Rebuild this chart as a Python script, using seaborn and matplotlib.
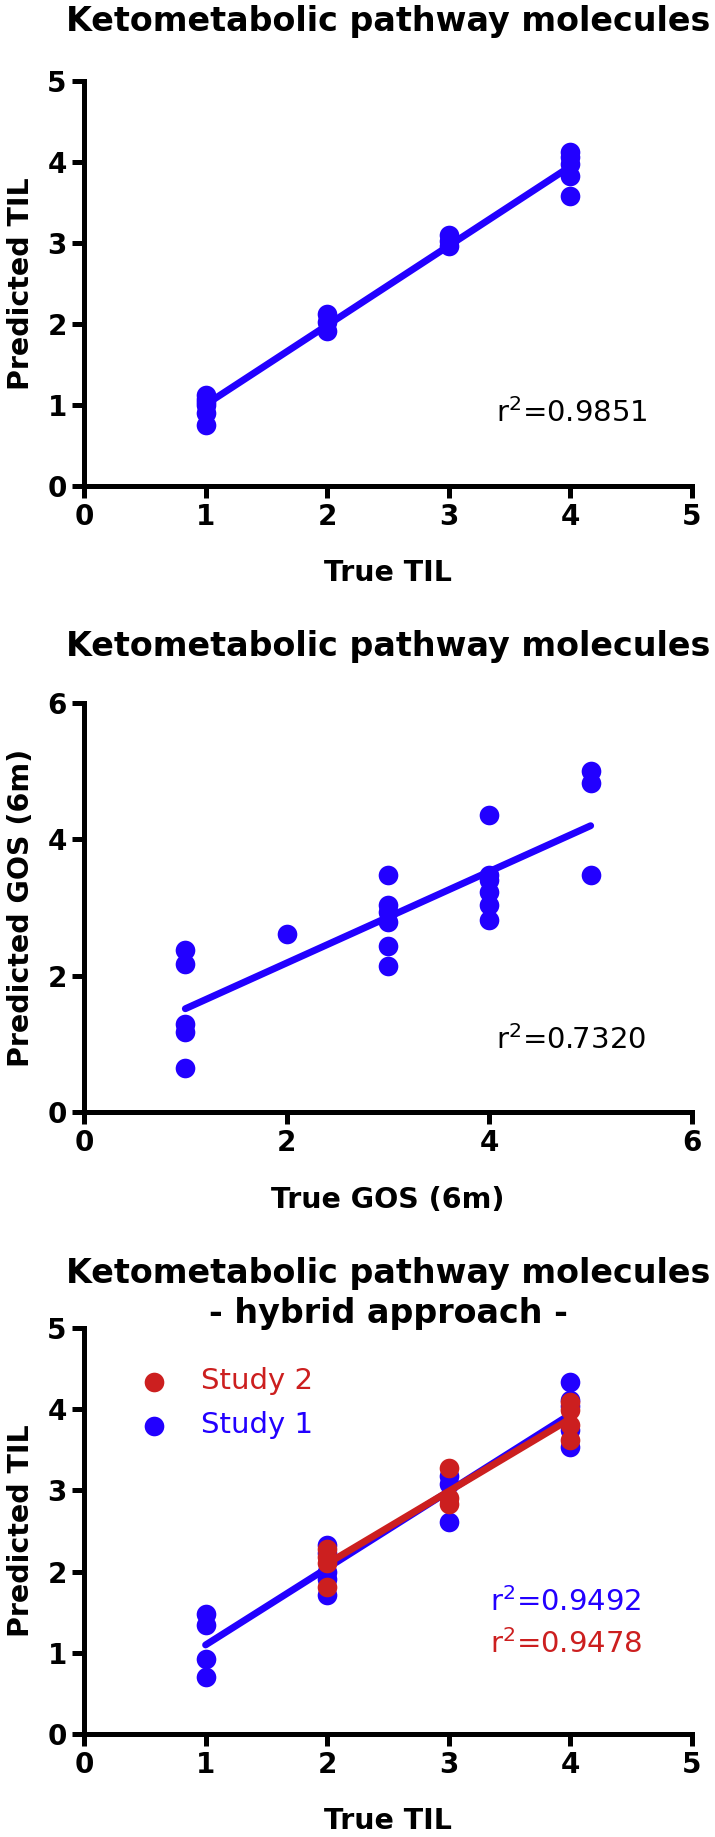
import matplotlib
matplotlib.use('Agg')
import matplotlib.pyplot as plt
import seaborn as sns
import pandas as pd

# colours
BLUE = '#2200ff'
RED = '#cc1f1f'

# panel 1 - TIL
true_til = [1, 1, 1, 1, 1, 1, 2, 2, 2, 3, 3, 3, 4, 4, 4, 4, 4]
pred_til = [1.12, 1.08, 1.04, 1.00, 0.90, 0.76, 2.12, 2.02, 1.92, 3.10, 3.02, 2.96,
            4.12, 4.06, 3.98, 3.83, 3.58]
r2_til = 'r$^2$=0.9851'

# panel 2 - GOS (6m)
true_gos = [1, 1, 1, 1, 1, 2, 3, 3, 3, 3, 3, 3, 4, 4, 4, 4, 4, 4, 5, 5, 5]
pred_gos = [2.37, 2.17, 1.29, 1.17, 0.64, 2.61, 3.48, 3.04, 2.93, 2.78, 2.43, 2.14,
            4.36, 3.48, 3.40, 3.22, 3.04, 2.81, 5.00, 4.83, 3.48]
r2_gos = 'r$^2$=0.7320'

# panel 3 - hybrid approach
study1_x = [1, 1, 1, 1, 2, 2, 2, 2, 2, 3, 3, 3, 4, 4, 4, 4, 4]
study1_y = [1.48, 1.34, 0.92, 0.70, 2.33, 2.23, 2.00, 1.91, 1.71, 3.18, 3.08, 2.61,
            4.34, 4.11, 4.04, 3.74, 3.53]
study2_x = [2, 2, 2, 2, 3, 3, 3, 4, 4, 4, 4]
study2_y = [2.28, 2.18, 2.10, 1.81, 3.27, 2.90, 2.83, 4.09, 3.99, 3.81, 3.62]
r2_study1 = 'r$^2$=0.9492'
r2_study2 = 'r$^2$=0.9478'

title = 'Ketometabolic pathway molecules'

sns.set_theme(style='ticks')
plt.rcParams['font.family'] = ['DejaVu Sans']
plt.rcParams['mathtext.default'] = 'regular'
plt.rcParams['text.color'] = 'black'
plt.rcParams['axes.labelcolor'] = 'black'
plt.rcParams['xtick.color'] = 'black'
plt.rcParams['ytick.color'] = 'black'

df1 = pd.DataFrame({'x': true_til, 'y': pred_til})
df2 = pd.DataFrame({'x': true_gos, 'y': pred_gos})
df_s1 = pd.DataFrame({'x': study1_x, 'y': study1_y})
df_s2 = pd.DataFrame({'x': study2_x, 'y': study2_y})

fig = plt.figure(figsize=(7.15, 18.37), dpi=100)
ax1 = fig.add_axes([0.1175, 0.7354, 0.8503, 0.2205])
ax2 = fig.add_axes([0.1175, 0.3947, 0.8503, 0.2226])
ax3 = fig.add_axes([0.1175, 0.0561, 0.8503, 0.2210])


def style_axes(ax, lim, ticks, xlabel, ylabel):
    ax.set_xlim(0, lim)
    ax.set_ylim(0, lim)
    ax.set_xticks(ticks)
    ax.set_yticks(ticks)
    sns.despine(ax=ax)
    for s in ['left', 'bottom']:
        ax.spines[s].set_linewidth(3.6)
        ax.spines[s].set_color('black')
    ax.tick_params(width=3.6, length=8.5, pad=4, labelsize=20, colors='black')
    for lab in ax.get_xticklabels() + ax.get_yticklabels():
        lab.set_fontweight('bold')
    ax.set_xlabel(xlabel, fontsize=20.5, fontweight='bold', va='center')
    ax.set_ylabel(ylabel, fontsize=20.5, fontweight='bold', va='center')
    ax.xaxis.set_label_coords(0.5, -0.215)
    ax.yaxis.set_label_coords(-0.104, 0.5)


# panel 1
sns.scatterplot(data=df1, x='x', y='y', color=BLUE, s=200, linewidth=0, ax=ax1, zorder=3)
sns.regplot(data=df1, x='x', y='y', ci=None, scatter=False, color=BLUE,
            line_kws={'lw': 5, 'zorder': 4}, ax=ax1)
style_axes(ax1, 5, [0, 1, 2, 3, 4, 5], 'True TIL', 'Predicted TIL')
ax1.text(0.5, 1.146, title, transform=ax1.transAxes, ha='center', va='center',
         fontsize=24, fontweight='bold')
ax1.text(0.678, 0.18, r2_til, transform=ax1.transAxes, ha='left', va='center', fontsize=21)

# panel 2
sns.scatterplot(data=df2, x='x', y='y', color=BLUE, s=200, linewidth=0, ax=ax2, zorder=3)
sns.regplot(data=df2, x='x', y='y', ci=None, scatter=False, color=BLUE,
            line_kws={'lw': 5, 'zorder': 4}, ax=ax2)
style_axes(ax2, 6, [0, 2, 4, 6], 'True GOS (6m)', 'Predicted GOS (6m)')
ax2.text(0.5, 1.139, title, transform=ax2.transAxes, ha='center', va='center',
         fontsize=24, fontweight='bold')
ax2.text(0.678, 0.176, r2_gos, transform=ax2.transAxes, ha='left', va='center', fontsize=21)

# panel 3
sns.scatterplot(data=df_s1, x='x', y='y', color=BLUE, s=200, linewidth=0, ax=ax3,
                zorder=3, label='Study 1')
sns.regplot(data=df_s1, x='x', y='y', ci=None, scatter=False, color=BLUE,
            line_kws={'lw': 5, 'zorder': 4}, ax=ax3)
sns.scatterplot(data=df_s2, x='x', y='y', color=RED, s=200, linewidth=0, ax=ax3,
                zorder=5, label='Study 2')
sns.regplot(data=df_s2, x='x', y='y', ci=None, scatter=False, color=RED,
            line_kws={'lw': 5, 'zorder': 6}, ax=ax3)
style_axes(ax3, 5, [0, 1, 2, 3, 4, 5], 'True TIL', 'Predicted TIL')
ax3.text(0.5, 1.085, title + '\n- hybrid approach -', transform=ax3.transAxes,
         ha='center', va='center', fontsize=24, fontweight='bold', linespacing=1.3)
ax3.text(0.668, 0.326, r2_study1, transform=ax3.transAxes, ha='left', va='center',
         fontsize=21, color=BLUE)
ax3.text(0.668, 0.221, r2_study2, transform=ax3.transAxes, ha='left', va='center',
         fontsize=21, color=RED)

handles, labels = ax3.get_legend_handles_labels()
hmap = dict(zip(labels, handles))
ax3.legend([hmap['Study 2'], hmap['Study 1']], ['Study 2', 'Study 1'],
           loc='upper left', bbox_to_anchor=(0.072, 0.932), borderaxespad=0,
           frameon=False, fontsize=21, labelcolor=[RED, BLUE],
           handlelength=1.0, handletextpad=1.1, labelspacing=0.55)

fig.savefig('out.png', dpi=100)
